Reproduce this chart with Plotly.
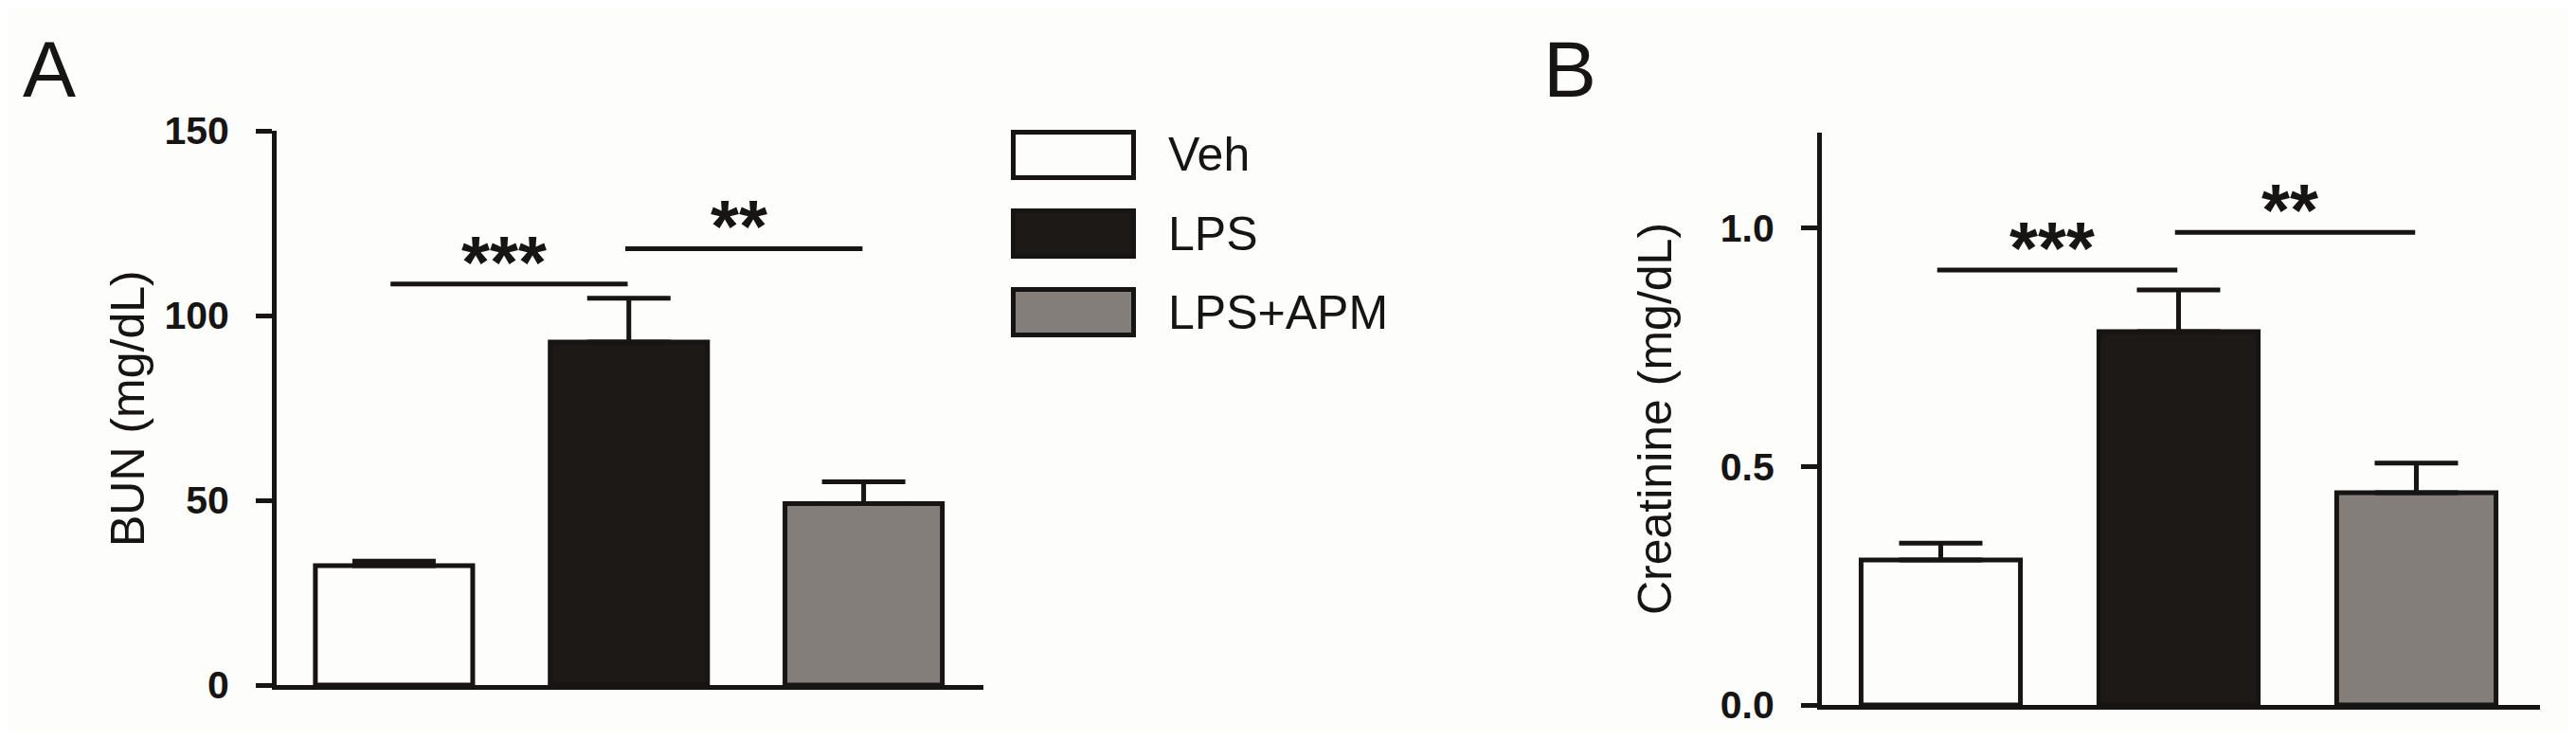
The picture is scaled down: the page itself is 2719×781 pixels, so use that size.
import plotly.graph_objects as go

# ---------------- data ----------------
categories = ["Veh", "LPS", "LPS+APM"]
bun_mean = [32.3, 92.8, 49.1]
bun_sem = [1.2, 11.9, 5.9]
creat_mean = [0.304, 0.783, 0.445]
creat_sem = [0.035, 0.087, 0.062]

bun_ticks = [0, 50, 100, 150]
creat_ticks = [0.0, 0.5, 1.0]
creat_tick_text = ["0.0", "0.5", "1.0"]

sig_from = [0, 1]
sig_to = [1, 2]
sig_labels = ["***", "**"]
bun_sig_y = [108.5, 118.1]
creat_sig_y = [0.912, 0.991]

panel_labels = ["A", "B"]
bun_title = "BUN (mg/dL)"
creat_title = "Creatinine (mg/dL)"

# ---------------- style / layout ----------------
PAGE_W, PAGE_H = 2719, 781
BODY = 8                      # default body margin of the html page
W, H = PAGE_W - 2 * BODY, PAGE_H - 2 * BODY
BG = "#fdfdfb"
INK = "#171513"
fills = ["#fdfdfb", "#1c1917", "#847e7b"]
LW = 5
TEXT_FONT = "Liberation Sans, Arial, sans-serif"
TICK_FONT = "Liberation Sans Narrow, Arial Narrow, Liberation Sans, Arial, sans-serif"
TICK_SIZE = 41


def px(x):
    """page pixel x -> paper fraction"""
    return (x - BODY) / W


def py(y):
    """page pixel y (from top) -> paper fraction"""
    return 1 - (y - BODY) / H


fig = go.Figure()

panels = [
    dict(xa="x", ya="y", mean=bun_mean, sem=bun_sem, sig_y=bun_sig_y),
    dict(xa="x2", ya="y2", mean=creat_mean, sem=creat_sem, sig_y=creat_sig_y),
]

for p in panels:
    for i, cat in enumerate(categories):
        fig.add_trace(go.Bar(
            x=[i], y=[p["mean"][i]], name=cat, width=0.67,
            xaxis=p["xa"], yaxis=p["ya"], showlegend=False,
            marker=dict(color=fills[i], line=dict(color=INK, width=LW)),
            error_y=dict(type="data", symmetric=False, array=[p["sem"][i]],
                         arrayminus=[0], color=INK, thickness=LW, width=44),
        ))
    for k in range(len(sig_labels)):
        x0 = sig_from[k] - 0.015
        x1 = sig_to[k] - 0.005
        fig.add_trace(go.Scatter(
            x=[x0, x1], y=[p["sig_y"][k], p["sig_y"][k]], mode="lines",
            line=dict(color=INK, width=LW), xaxis=p["xa"], yaxis=p["ya"],
            showlegend=False, hoverinfo="skip",
        ))
        fig.add_annotation(
            x=(sig_from[k] + sig_to[k]) / 2 - 0.03, y=p["sig_y"][k],
            xref=p["xa"], yref=p["ya"], text=sig_labels[k], showarrow=False,
            yanchor="middle", xanchor="center", yshift=23,
            font=dict(family=TEXT_FONT, size=77, color=INK, weight="bold"),
        )

axis_common = dict(showgrid=False, zeroline=False, showline=True,
                   linecolor=INK, linewidth=LW)

fig.update_layout(
    width=W, height=H,
    margin=dict(l=0, r=0, t=0, b=0, autoexpand=False),
    paper_bgcolor=BG, plot_bgcolor=BG,
    barmode="overlay",
    showlegend=False,
    xaxis=dict(domain=[px(292), px(1038)], range=[-0.5, 2.51],
               showticklabels=False, ticks="", anchor="y", **axis_common),
    yaxis=dict(domain=[py(723), py(138)], range=[0, 150], tickvals=bun_ticks,
               ticks="outside", ticklen=17, tickwidth=LW, tickcolor=INK,
               ticklabelstandoff=20, anchor="x",
               tickfont=dict(family=TICK_FONT, size=TICK_SIZE, color=INK, weight="bold"),
               **axis_common),
    xaxis2=dict(domain=[px(1923), px(2681)], range=[-0.5, 2.52],
                showticklabels=False, ticks="", anchor="y2", **axis_common),
    yaxis2=dict(domain=[py(744), py(140)], range=[0, 1.2], tickvals=creat_ticks,
                ticktext=creat_tick_text,
                ticks="outside", ticklen=17, tickwidth=LW, tickcolor=INK,
                ticklabelstandoff=20, anchor="x2",
                tickfont=dict(family=TICK_FONT, size=TICK_SIZE, color=INK, weight="bold"),
                **axis_common),
)

# axis titles
fig.add_annotation(x=px(135), y=py(431), xref="paper", yref="paper",
                   text=bun_title, textangle=-90, showarrow=False,
                   xanchor="center", yanchor="middle",
                   font=dict(family=TEXT_FONT, size=50, color=INK))
fig.add_annotation(x=px(1747), y=py(442), xref="paper", yref="paper",
                   text=creat_title, textangle=-90, showarrow=False,
                   xanchor="center", yanchor="middle",
                   font=dict(family=TEXT_FONT, size=50, color=INK))

# panel letters
for lab, x in zip(panel_labels, [22, 1627]):
    fig.add_annotation(x=px(x), y=py(73), xref="paper", yref="paper",
                       text=lab, showarrow=False, xanchor="left", yanchor="middle",
                       font=dict(family=TEXT_FONT, size=84, color=INK))

# legend (custom large swatches)
leg_x0, leg_x1 = 1069.5, 1196.5
leg_top, leg_h, leg_step = 139.5, 48, 83
for i, cat in enumerate(categories):
    y0 = leg_top + i * leg_step
    fig.add_shape(type="rect", xref="paper", yref="paper",
                  x0=px(leg_x0), x1=px(leg_x1), y0=py(y0), y1=py(y0 + leg_h),
                  fillcolor=fills[i], line=dict(color=INK, width=LW))
    fig.add_annotation(x=px(1231), y=py(y0 + leg_h / 2), xref="paper", yref="paper",
                       text=cat, showarrow=False, xanchor="left", yanchor="middle",
                       font=dict(family=TEXT_FONT, size=50, color=INK))

fig.write_html("out.html")
